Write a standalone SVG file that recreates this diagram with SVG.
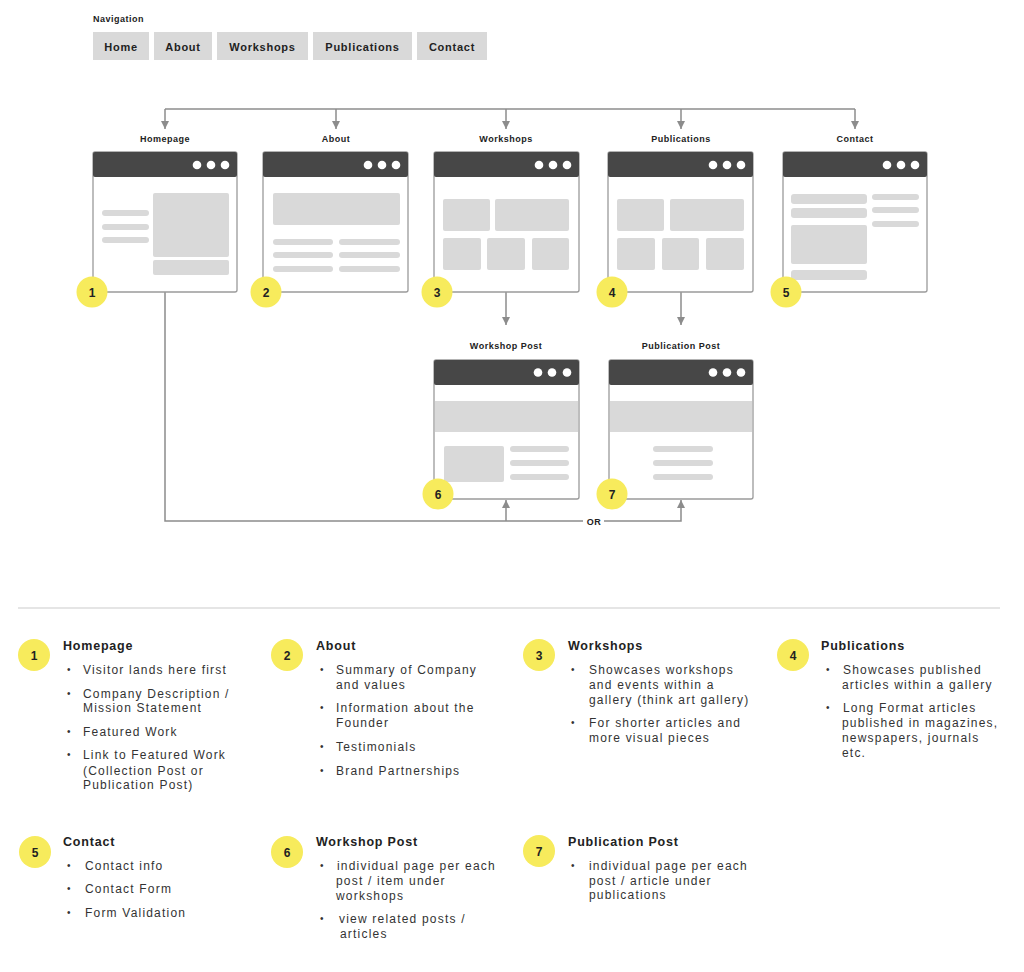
<svg xmlns="http://www.w3.org/2000/svg" width="1024" height="972" viewBox="0 0 1024 972">
<defs>
<style>
text{font-family:"Liberation Sans",Arial,sans-serif;fill:#222}
.nav{font-size:11px;font-weight:bold;letter-spacing:0.75px;text-anchor:middle}
.btn{fill:#d9d9d9}
.lbl{font-size:9px;font-weight:bold;letter-spacing:0.5px;text-anchor:middle}
.frame{fill:#fff;stroke:#9a9a9a;stroke-width:1.3}
.frameo{fill:none;stroke:#9a9a9a;stroke-width:1.3}
.hdr{fill:#474747}
.dot{fill:#fff}
.blk{fill:#d9d9d9}
.badge{fill:#f7eb5c}
.num{font-size:12px;font-weight:bold;text-anchor:middle}
.conn{fill:none;stroke:#8c8c8c;stroke-width:1.5}
.ttl{font-size:12.5px;font-weight:bold;letter-spacing:0.8px}
.body{font-size:12px;letter-spacing:1.2px;fill:#333}
.bul{font-size:10px;fill:#333}
</style>
<marker id="arr" markerUnits="userSpaceOnUse" markerWidth="10" markerHeight="10" viewBox="0 0 10 10" refX="9" refY="5" orient="auto">
<path d="M1,1 L9,5 L1,9 Z" fill="#8c8c8c"/>
</marker>
</defs>
<rect width="1024" height="972" fill="#fff"/>

<g id="navigation">
<text x="93" y="22" style="font-size:9px;font-weight:bold;letter-spacing:0.5px">Navigation</text>
<rect class="btn" x="93" y="32" width="56" height="28"/>
<text class="nav" x="121" y="50.5">Home</text>
<rect class="btn" x="154" y="32" width="58" height="28"/>
<text class="nav" x="183" y="50.5">About</text>
<rect class="btn" x="217" y="32" width="91" height="28"/>
<text class="nav" x="262.5" y="50.5">Workshops</text>
<rect class="btn" x="313" y="32" width="99" height="28"/>
<text class="nav" x="362.5" y="50.5">Publications</text>
<rect class="btn" x="417" y="32" width="70" height="28"/>
<text class="nav" x="452" y="50.5">Contact</text>
</g>

<g id="connectors">
<path class="conn" d="M165,109 H855"/>
<path class="conn" d="M165,109 V129" marker-end="url(#arr)"/>
<path class="conn" d="M336,109 V129" marker-end="url(#arr)"/>
<path class="conn" d="M506,109 V129" marker-end="url(#arr)"/>
<path class="conn" d="M681,109 V129" marker-end="url(#arr)"/>
<path class="conn" d="M855,109 V129" marker-end="url(#arr)"/>
<path class="conn" d="M506,292 V325" marker-end="url(#arr)"/>
<path class="conn" d="M681,292 V325" marker-end="url(#arr)"/>
<path class="conn" d="M165,292 V521 H681 V500" marker-end="url(#arr)"/>
<path class="conn" d="M506,521 V500" marker-end="url(#arr)"/>
<rect x="583" y="514" width="21" height="14" fill="#fff"/>
<text class="lbl" x="594" y="524.5">OR</text>
</g>

<g id="homepage">
<text class="lbl" x="165" y="142">Homepage</text>
<rect class="frame" x="93" y="152" width="144" height="140" rx="2"/>
<rect class="hdr" x="93" y="152" width="144" height="25" rx="2"/>
<circle class="dot" cx="197" cy="165" r="4.3"/><circle class="dot" cx="211" cy="165" r="4.3"/><circle class="dot" cx="225" cy="165" r="4.3"/>
<rect class="blk" x="102" y="210" width="47" height="6" rx="3"/>
<rect class="blk" x="102" y="224" width="47" height="6" rx="3"/>
<rect class="blk" x="102" y="237" width="47" height="6" rx="3"/>
<rect class="blk" x="153" y="193" width="76" height="64" rx="2"/>
<rect class="blk" x="153" y="260" width="76" height="15" rx="2"/>
<circle class="badge" cx="92" cy="292" r="15.5"/>
<text class="num" x="92" y="296.5">1</text>
</g>

<g id="about">
<text class="lbl" x="336" y="142">About</text>
<rect class="frame" x="263" y="152" width="145" height="140" rx="2"/>
<rect class="hdr" x="263" y="152" width="145" height="25" rx="2"/>
<circle class="dot" cx="368" cy="165" r="4.3"/><circle class="dot" cx="382" cy="165" r="4.3"/><circle class="dot" cx="396" cy="165" r="4.3"/>
<rect class="blk" x="273" y="193" width="127" height="32" rx="2"/>
<rect class="blk" x="273" y="239" width="60" height="6" rx="3"/>
<rect class="blk" x="339" y="239" width="61" height="6" rx="3"/>
<rect class="blk" x="273" y="252" width="60" height="6" rx="3"/>
<rect class="blk" x="339" y="252" width="61" height="6" rx="3"/>
<rect class="blk" x="273" y="266" width="60" height="6" rx="3"/>
<rect class="blk" x="339" y="266" width="61" height="6" rx="3"/>
<circle class="badge" cx="266" cy="292" r="15.5"/>
<text class="num" x="266" y="296.5">2</text>
</g>

<g id="workshops">
<text class="lbl" x="506" y="142">Workshops</text>
<rect class="frame" x="434" y="152" width="145" height="140" rx="2"/>
<rect class="hdr" x="434" y="152" width="145" height="25" rx="2"/>
<circle class="dot" cx="539" cy="165" r="4.3"/><circle class="dot" cx="553" cy="165" r="4.3"/><circle class="dot" cx="567" cy="165" r="4.3"/>
<rect class="blk" x="443" y="199" width="47" height="32" rx="2"/>
<rect class="blk" x="495" y="199" width="74" height="32" rx="2"/>
<rect class="blk" x="443" y="238" width="38" height="32" rx="2"/>
<rect class="blk" x="487" y="238" width="38" height="32" rx="2"/>
<rect class="blk" x="532" y="238" width="37" height="32" rx="2"/>
<circle class="badge" cx="437" cy="292" r="15.5"/>
<text class="num" x="437" y="296.5">3</text>
</g>

<g id="publications">
<text class="lbl" x="681" y="142">Publications</text>
<rect class="frame" x="608" y="152" width="145" height="140" rx="2"/>
<rect class="hdr" x="608" y="152" width="145" height="25" rx="2"/>
<circle class="dot" cx="713" cy="165" r="4.3"/><circle class="dot" cx="727" cy="165" r="4.3"/><circle class="dot" cx="741" cy="165" r="4.3"/>
<rect class="blk" x="617" y="199" width="47" height="32" rx="2"/>
<rect class="blk" x="670" y="199" width="74" height="32" rx="2"/>
<rect class="blk" x="617" y="238" width="38" height="32" rx="2"/>
<rect class="blk" x="662" y="238" width="37" height="32" rx="2"/>
<rect class="blk" x="706" y="238" width="38" height="32" rx="2"/>
<circle class="badge" cx="612" cy="292" r="15.5"/>
<text class="num" x="612" y="296.5">4</text>
</g>

<g id="contact">
<text class="lbl" x="855" y="142">Contact</text>
<rect class="frame" x="783" y="152" width="144" height="140" rx="2"/>
<rect class="hdr" x="783" y="152" width="144" height="25" rx="2"/>
<circle class="dot" cx="887" cy="165" r="4.3"/><circle class="dot" cx="901" cy="165" r="4.3"/><circle class="dot" cx="915" cy="165" r="4.3"/>
<rect class="blk" x="791" y="194" width="76" height="10" rx="3"/>
<rect class="blk" x="791" y="208" width="76" height="10" rx="3"/>
<rect class="blk" x="791" y="225" width="76" height="39" rx="2"/>
<rect class="blk" x="791" y="270" width="76" height="10" rx="3"/>
<rect class="blk" x="872" y="194" width="47" height="6" rx="3"/>
<rect class="blk" x="872" y="207" width="47" height="6" rx="3"/>
<rect class="blk" x="872" y="221" width="47" height="6" rx="3"/>
<circle class="badge" cx="786" cy="292" r="15.5"/>
<text class="num" x="786" y="296.5">5</text>
</g>

<g id="workshop-post">
<text class="lbl" x="506" y="349">Workshop Post</text>
<rect class="frame" x="434" y="360" width="145" height="139" rx="2"/>
<rect class="hdr" x="434" y="360" width="145" height="25" rx="2"/>
<circle class="dot" cx="538" cy="372.5" r="4.3"/><circle class="dot" cx="552" cy="372.5" r="4.3"/><circle class="dot" cx="567" cy="372.5" r="4.3"/>
<rect class="blk" x="435" y="401" width="143" height="31"/>
<rect class="blk" x="444" y="446" width="60" height="36" rx="2"/>
<rect class="blk" x="510" y="446" width="59" height="6" rx="3"/>
<rect class="blk" x="510" y="460" width="59" height="6" rx="3"/>
<rect class="blk" x="510" y="474" width="59" height="6" rx="3"/>
<circle class="badge" cx="438" cy="494" r="15.5"/>
<text class="num" x="438" y="498.5">6</text>
</g>

<g id="publication-post">
<text class="lbl" x="681" y="349">Publication Post</text>
<rect class="frame" x="609" y="360" width="144" height="139" rx="2"/>
<rect class="hdr" x="609" y="360" width="144" height="25" rx="2"/>
<circle class="dot" cx="713" cy="372.5" r="4.3"/><circle class="dot" cx="727" cy="372.5" r="4.3"/><circle class="dot" cx="741" cy="372.5" r="4.3"/>
<rect class="blk" x="610" y="401" width="142" height="31"/>
<rect class="blk" x="653" y="446" width="60" height="6" rx="3"/>
<rect class="blk" x="653" y="460" width="60" height="6" rx="3"/>
<rect class="blk" x="653" y="474" width="60" height="6" rx="3"/>
<circle class="badge" cx="612" cy="494" r="15.5"/>
<text class="num" x="612" y="498.5">7</text>
</g>

<path d="M18,608 H1000" stroke="#dcdcdc" stroke-width="1.5"/>

<g id="legend-1">
<circle class="badge" cx="34" cy="655" r="16"/>
<text class="num" x="34" y="659.5">1</text>
<text class="ttl" x="63" y="650">Homepage</text>
<text class="bul" x="67" y="673">•</text><text class="body" x="83" y="674">Visitor lands here first</text>
<text class="bul" x="67" y="697">•</text><text class="body" x="83" y="698">Company Description /</text>
<text class="body" x="83" y="712">Mission Statement</text>
<text class="bul" x="67" y="735">•</text><text class="body" x="83" y="736">Featured Work</text>
<text class="bul" x="67" y="758">•</text><text class="body" x="83" y="759">Link to Featured Work</text>
<text class="body" x="83" y="775">(Collection Post or</text>
<text class="body" x="83" y="789">Publication Post)</text>
</g>

<g id="legend-2">
<circle class="badge" cx="287" cy="655" r="16"/>
<text class="num" x="287" y="659.5">2</text>
<text class="ttl" x="316" y="650">About</text>
<text class="bul" x="320" y="673">•</text><text class="body" x="336" y="674">Summary of Company</text>
<text class="body" x="336" y="689">and values</text>
<text class="bul" x="320" y="711">•</text><text class="body" x="336" y="712">Information about the</text>
<text class="body" x="336" y="727">Founder</text>
<text class="bul" x="320" y="750">•</text><text class="body" x="336" y="751">Testimonials</text>
<text class="bul" x="320" y="774">•</text><text class="body" x="336" y="775">Brand Partnerships</text>
</g>

<g id="legend-3">
<circle class="badge" cx="539" cy="655" r="16"/>
<text class="num" x="539" y="659.5">3</text>
<text class="ttl" x="568" y="650">Workshops</text>
<text class="bul" x="571" y="673">•</text><text class="body" x="589" y="674">Showcases workshops</text>
<text class="body" x="589" y="689">and events within a</text>
<text class="body" x="589" y="704">gallery (think art gallery)</text>
<text class="bul" x="571" y="726">•</text><text class="body" x="589" y="727">For shorter articles and</text>
<text class="body" x="589" y="742">more visual pieces</text>
</g>

<g id="legend-4">
<circle class="badge" cx="793" cy="655" r="16"/>
<text class="num" x="793" y="659.5">4</text>
<text class="ttl" x="821" y="650">Publications</text>
<text class="bul" x="826" y="673">•</text><text class="body" x="843" y="674">Showcases published</text>
<text class="body" x="842" y="689">articles within a gallery</text>
<text class="bul" x="826" y="711">•</text><text class="body" x="843" y="712">Long Format articles</text>
<text class="body" x="842" y="727">published in magazines,</text>
<text class="body" x="842" y="742">newspapers, journals</text>
<text class="body" x="842" y="757">etc.</text>
</g>

<g id="legend-5">
<circle class="badge" cx="35" cy="852" r="16"/>
<text class="num" x="35" y="856.5">5</text>
<text class="ttl" x="63" y="846">Contact</text>
<text class="bul" x="67" y="869">•</text><text class="body" x="85" y="870">Contact info</text>
<text class="bul" x="67" y="892">•</text><text class="body" x="85" y="893">Contact Form</text>
<text class="bul" x="67" y="916">•</text><text class="body" x="85" y="917">Form Validation</text>
</g>

<g id="legend-6">
<circle class="badge" cx="287" cy="852" r="16"/>
<text class="num" x="287" y="856.5">6</text>
<text class="ttl" x="316" y="846">Workshop Post</text>
<text class="bul" x="320" y="869">•</text><text class="body" x="337" y="870">individual page per each</text>
<text class="body" x="336" y="885">post / item under</text>
<text class="body" x="336" y="900">workshops</text>
<text class="bul" x="320" y="922">•</text><text class="body" x="339" y="923">view related posts /</text>
<text class="body" x="340" y="938">articles</text>
</g>

<g id="legend-7">
<circle class="badge" cx="539" cy="851" r="16"/>
<text class="num" x="539" y="855.5">7</text>
<text class="ttl" x="568" y="846">Publication Post</text>
<text class="bul" x="571" y="869">•</text><text class="body" x="589" y="870">individual page per each</text>
<text class="body" x="589" y="885">post / article under</text>
<text class="body" x="589" y="899">publications</text>
</g>
</svg>
